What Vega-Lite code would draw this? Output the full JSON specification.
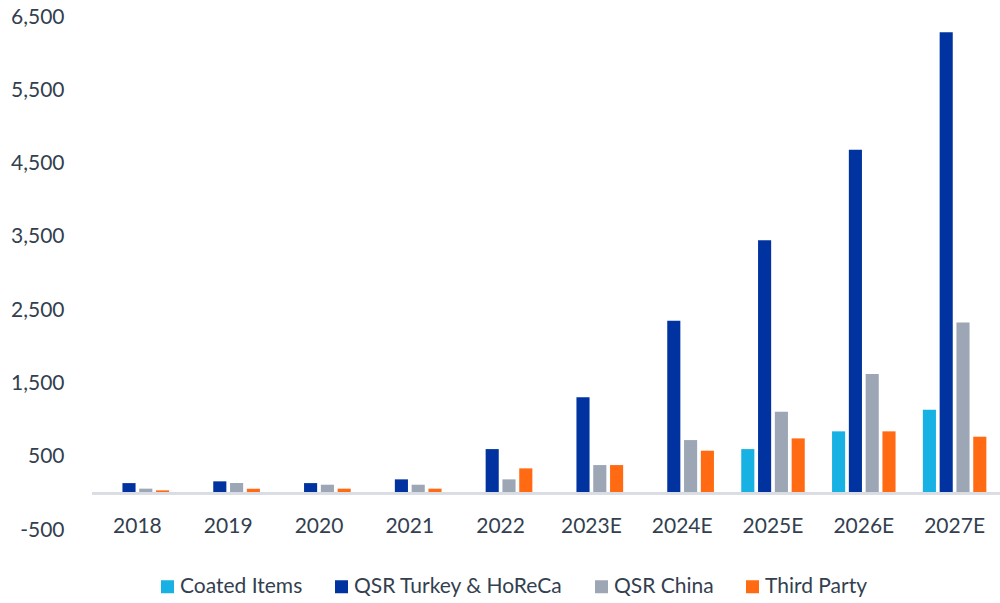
{
  "$schema": "https://vega.github.io/schema/vega-lite/v6.json",
  "width": 908,
  "height": 513,
  "autosize": "none",
  "padding": {"left": 92, "top": 17, "right": 0, "bottom": 73},
  "background": "white",
  "config": {
    "font": "Lato",
    "view": {"stroke": null},
    "axis": {"labelFont": "Lato", "labelColor": "#333F50", "labelFontSize": 21}
  },
  "data": {
    "values": [
      {"year": "2018", "series": "QSR Turkey & HoReCa", "value": 140},
      {"year": "2018", "series": "QSR China", "value": 64},
      {"year": "2018", "series": "Third Party", "value": 41},
      {"year": "2019", "series": "QSR Turkey & HoReCa", "value": 164},
      {"year": "2019", "series": "QSR China", "value": 140},
      {"year": "2019", "series": "Third Party", "value": 64},
      {"year": "2020", "series": "QSR Turkey & HoReCa", "value": 140},
      {"year": "2020", "series": "QSR China", "value": 118},
      {"year": "2020", "series": "Third Party", "value": 64},
      {"year": "2021", "series": "QSR Turkey & HoReCa", "value": 191},
      {"year": "2021", "series": "QSR China", "value": 118},
      {"year": "2021", "series": "Third Party", "value": 64},
      {"year": "2022", "series": "QSR Turkey & HoReCa", "value": 604},
      {"year": "2022", "series": "QSR China", "value": 191},
      {"year": "2022", "series": "Third Party", "value": 341},
      {"year": "2023E", "series": "QSR Turkey & HoReCa", "value": 1310},
      {"year": "2023E", "series": "QSR China", "value": 386},
      {"year": "2023E", "series": "Third Party", "value": 386},
      {"year": "2024E", "series": "QSR Turkey & HoReCa", "value": 2356},
      {"year": "2024E", "series": "QSR China", "value": 727},
      {"year": "2024E", "series": "Third Party", "value": 582},
      {"year": "2025E", "series": "Coated Items", "value": 604},
      {"year": "2025E", "series": "QSR Turkey & HoReCa", "value": 3452},
      {"year": "2025E", "series": "QSR China", "value": 1114},
      {"year": "2025E", "series": "Third Party", "value": 750},
      {"year": "2026E", "series": "Coated Items", "value": 846},
      {"year": "2026E", "series": "QSR Turkey & HoReCa", "value": 4689},
      {"year": "2026E", "series": "QSR China", "value": 1628},
      {"year": "2026E", "series": "Third Party", "value": 846},
      {"year": "2027E", "series": "Coated Items", "value": 1142},
      {"year": "2027E", "series": "QSR Turkey & HoReCa", "value": 6293},
      {"year": "2027E", "series": "QSR China", "value": 2333},
      {"year": "2027E", "series": "Third Party", "value": 773}
    ]
  },
  "layer": [
    {
      "mark": {"type": "bar"},
      "encoding": {
        "x": {
          "field": "year",
          "type": "nominal",
          "sort": null,
          "scale": {"paddingInner": 0.26, "paddingOuter": 0.13},
          "axis": {
            "title": null,
            "domain": false,
            "ticks": false,
            "labelAngle": 0,
            "labelPadding": -15
          }
        },
        "xOffset": {
          "field": "series",
          "type": "nominal",
          "scale": {
            "domain": ["Coated Items", "QSR Turkey & HoReCa", "QSR China", "Third Party"],
            "paddingInner": 0.22,
            "paddingOuter": 0.11
          }
        },
        "y": {
          "field": "value",
          "type": "quantitative",
          "scale": {"domain": [-500, 6500], "nice": false, "zero": false},
          "axis": {
            "title": null,
            "domain": false,
            "ticks": false,
            "grid": false,
            "values": [-500, 500, 1500, 2500, 3500, 4500, 5500, 6500],
            "labelExpr": "datum.value < 0 ? '-' + format(-datum.value, ',') : format(datum.value, ',')",
            "labelPadding": 28
          }
        },
        "y2": {"datum": 0},
        "color": {
          "field": "series",
          "type": "nominal",
          "scale": {
            "domain": ["Coated Items", "QSR Turkey & HoReCa", "QSR China", "Third Party"],
            "range": ["#17B1E3", "#0033A0", "#9CA6B4", "#FF6A13"]
          },
          "legend": {
            "title": null,
            "orient": "none",
            "direction": "horizontal",
            "legendX": 65,
            "legendY": 559,
            "padding": 0,
            "symbolType": "square",
            "symbolSize": 169,
            "symbolStrokeWidth": 0,
            "symbolOpacity": 1,
            "labelFont": "Lato",
            "labelFontSize": 21,
            "labelLimit": 400,
            "labelColor": "#333F50",
            "labelOffset": 2,
            "columnPadding": 28
          }
        }
      }
    },
    {
      "mark": {"type": "rule", "color": "#D9DDE3", "strokeWidth": 2},
      "encoding": {"y": {"datum": 0}}
    }
  ]
}
